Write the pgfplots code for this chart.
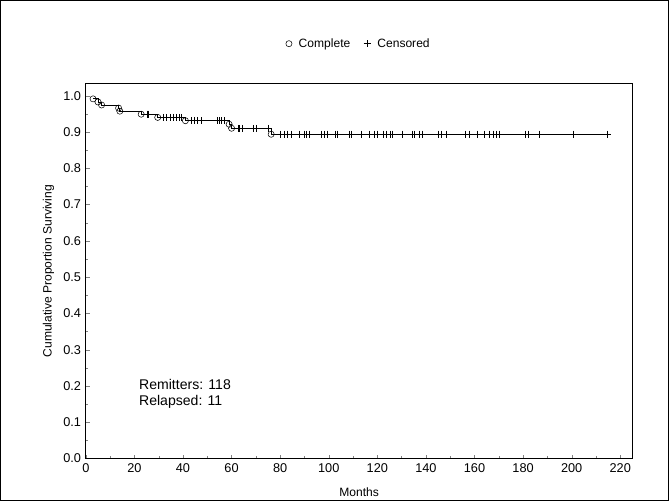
\documentclass[border=0pt]{standalone}
\usepackage{pgfplots}
\pgfplotsset{compat=1.18}
\usepackage{fontspec}
\setmainfont{Liberation Sans}

\begin{document}
\begin{tikzpicture}
\begin{axis}[
  name=ax,
  scale only axis,
  width=408pt, height=279.75pt,
  xmin=0, xmax=225, ymin=0, ymax=1.033,
  xtick pos=bottom, ytick pos=left,
  xtick={0,20,...,220}, minor x tick num=1,
  ytick={0,0.1,...,1.0}, minor y tick num=1,
  tick align=inside,
  major tick length=3pt, minor tick length=2pt,
  axis line style={line width=0.6pt},
  /pgf/number format/assume math mode=true,
  yticklabel style={/pgf/number format/.cd, fixed, fixed zerofill, precision=1},
  ticklabel style={font=\fontsize{9.5}{10}\selectfont},
  xlabel={Months}, ylabel={Cumulative Proportion Surviving},
  xlabel style={yshift=-5pt},
  label style={font=\fontsize{9}{10}\selectfont},
  legend style={at={(0.5,1.107)}, anchor=center, draw=none, legend columns=2,
    font=\fontsize{9}{10}\selectfont,
    /tikz/every odd column/.append style={column sep=3pt},
    /tikz/every even column/.append style={column sep=8pt}},
  legend cell align=left,
  clip=false,
]
% Kaplan-Meier step line
\addplot[const plot, black, line width=0.6pt, forget plot] coordinates {
 (3,0.9915) (5,0.9831) (6.5,0.9746) (13.5,0.9661) (14,0.9576) (22.8,0.9492)
 (29.6,0.9404) (41,0.9313) (59,0.9215) (60,0.9105) (76.3,0.894) (214.8,0.894)};
% complete (events)
\addplot[only marks, mark=o, mark size=2.3pt, black, mark options={fill=white}] coordinates {
 (3,0.9915) (5,0.9831) (6.5,0.9746) (13.5,0.9661) (14,0.9576) (22.8,0.9492)
 (29.6,0.9404) (41,0.9313) (59,0.9215) (60,0.9105) (76.3,0.894)};
% censored
\addplot[only marks, mark=+, mark size=2.6pt, black] coordinates {
 (25.2,0.9492) (25.9,0.9492)
 (32,0.9404) (33,0.9404) (34.8,0.9404) (35.8,0.9404) (37.2,0.9404) (38.6,0.9404) (39.3,0.9404)
 (43.6,0.9313) (44.7,0.9313) (45.7,0.9313) (47.5,0.9313) (54.1,0.9313) (54.8,0.9313) (55.9,0.9313) (57,0.9313)
 (62.6,0.9105) (63.3,0.9105) (64.3,0.9105) (68.9,0.9105) (70,0.9105) (75.3,0.9105)
 (80.2,0.894) (81.6,0.894) (83,0.894) (84.4,0.894) (87.9,0.894) (90.1,0.894) (90.9,0.894) (91.8,0.894)
 (96.8,0.894) (98.2,0.894) (99.2,0.894) (102.7,0.894) (103.7,0.894) (108.4,0.894) (109.2,0.894)
 (113.3,0.894) (116.6,0.894) (118.9,0.894) (119.9,0.894) (122.5,0.894) (123.6,0.894) (125.3,0.894)
 (126,0.894) (130.2,0.894) (134.5,0.894) (135.4,0.894) (137.3,0.894) (138.7,0.894)
 (145,0.894) (146.4,0.894) (148.5,0.894) (156.3,0.894) (157.7,0.894) (161.2,0.894) (164,0.894)
 (166.2,0.894) (167.9,0.894) (169,0.894) (170.1,0.894) (181,0.894) (182,0.894) (186.6,0.894)
 (200.7,0.894) (214.8,0.894)};
\legend{Complete, Censored}
\node[anchor=west, font=\fontsize{10.5}{12}\selectfont, align=left] at (axis cs:20,0.178)
  {Remitters: 118\\Relapsed: 11};
\end{axis}
\draw[line width=0.6pt] ([shift={(-63.75pt,-31.5pt)}]ax.south west) rectangle ([shift={(27pt,62.25pt)}]ax.north east);
\end{tikzpicture}
\end{document}
